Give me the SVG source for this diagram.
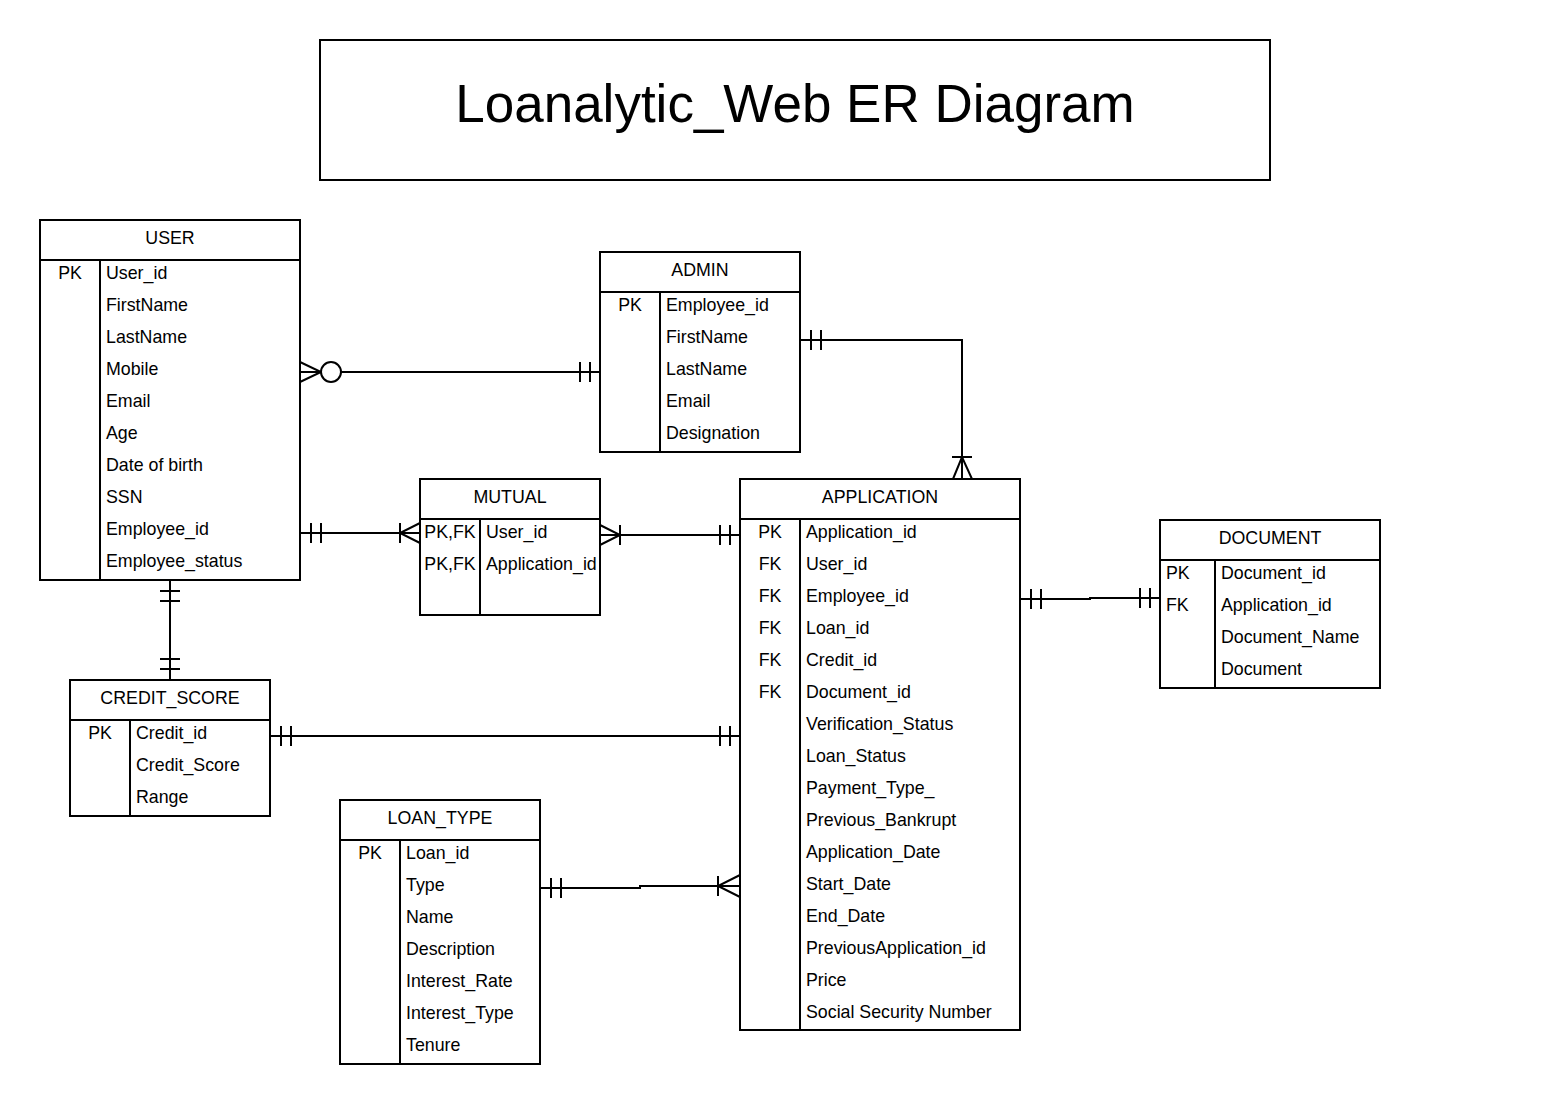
<svg xmlns="http://www.w3.org/2000/svg" width="1550" height="1104" viewBox="0 0 1550 1104">
<style>
.box{fill:#fff;stroke:#000;stroke-width:2}
.ln{fill:none;stroke:#000;stroke-width:2}
text{font-family:"Liberation Sans",Arial,sans-serif;font-size:17.8px;fill:#000}
.h{text-anchor:middle}
.k{text-anchor:middle}
.title{font-size:53px;text-anchor:middle}
</style>
<rect width="1550" height="1104" fill="#fff"/>
<g id="title">
<rect class="box" x="320" y="40" width="950" height="140"/>
<text class="title" x="795" y="122">Loanalytic_Web ER Diagram</text>
</g>
<g id="user">
<rect class="box" x="40" y="220" width="260" height="360"/>
<line class="ln" x1="40" y1="260" x2="300" y2="260"/>
<line class="ln" x1="100" y1="260" x2="100" y2="580"/>
<text class="h" x="170" y="243.5">USER</text>
<text class="k" x="70" y="279">PK</text>
<text x="106" y="279">User_id</text>
<text x="106" y="311">FirstName</text>
<text x="106" y="343">LastName</text>
<text x="106" y="375">Mobile</text>
<text x="106" y="407">Email</text>
<text x="106" y="439">Age</text>
<text x="106" y="471">Date of birth</text>
<text x="106" y="503">SSN</text>
<text x="106" y="535">Employee_id</text>
<text x="106" y="567">Employee_status</text>
</g>
<g id="admin">
<rect class="box" x="600" y="252" width="200" height="200"/>
<line class="ln" x1="600" y1="292" x2="800" y2="292"/>
<line class="ln" x1="660" y1="292" x2="660" y2="452"/>
<text class="h" x="700" y="275.5">ADMIN</text>
<text class="k" x="630" y="311">PK</text>
<text x="666" y="311">Employee_id</text>
<text x="666" y="343">FirstName</text>
<text x="666" y="375">LastName</text>
<text x="666" y="407">Email</text>
<text x="666" y="439">Designation</text>
</g>
<g id="mutual">
<rect class="box" x="420" y="479" width="180" height="136"/>
<line class="ln" x1="420" y1="519" x2="600" y2="519"/>
<line class="ln" x1="480" y1="519" x2="480" y2="615"/>
<text class="h" x="510" y="502.5">MUTUAL</text>
<text class="k" x="450" y="538">PK,FK</text>
<text x="486" y="538">User_id</text>
<text class="k" x="450" y="570">PK,FK</text>
<text x="486" y="570">Application_id</text>
</g>
<g id="application">
<rect class="box" x="740" y="479" width="280" height="551"/>
<line class="ln" x1="740" y1="519" x2="1020" y2="519"/>
<line class="ln" x1="800" y1="519" x2="800" y2="1030"/>
<text class="h" x="880" y="502.5">APPLICATION</text>
<text class="k" x="770" y="538">PK</text>
<text class="k" x="770" y="570">FK</text>
<text class="k" x="770" y="602">FK</text>
<text class="k" x="770" y="634">FK</text>
<text class="k" x="770" y="666">FK</text>
<text class="k" x="770" y="698">FK</text>
<text x="806" y="538">Application_id</text>
<text x="806" y="570">User_id</text>
<text x="806" y="602">Employee_id</text>
<text x="806" y="634">Loan_id</text>
<text x="806" y="666">Credit_id</text>
<text x="806" y="698">Document_id</text>
<text x="806" y="730">Verification_Status</text>
<text x="806" y="762">Loan_Status</text>
<text x="806" y="794">Payment_Type_</text>
<text x="806" y="826">Previous_Bankrupt</text>
<text x="806" y="858">Application_Date</text>
<text x="806" y="890">Start_Date</text>
<text x="806" y="922">End_Date</text>
<text x="806" y="954">PreviousApplication_id</text>
<text x="806" y="986">Price</text>
<text x="806" y="1018">Social Security Number</text>
</g>
<g id="document">
<rect class="box" x="1160" y="520" width="220" height="168"/>
<line class="ln" x1="1160" y1="560" x2="1380" y2="560"/>
<line class="ln" x1="1215" y1="560" x2="1215" y2="688"/>
<text class="h" x="1270" y="543.5">DOCUMENT</text>
<text x="1166" y="579">PK</text>
<text x="1166" y="611">FK</text>
<text x="1221" y="579">Document_id</text>
<text x="1221" y="611">Application_id</text>
<text x="1221" y="643">Document_Name</text>
<text x="1221" y="675">Document</text>
</g>
<g id="credit_score">
<rect class="box" x="70" y="680" width="200" height="136"/>
<line class="ln" x1="70" y1="720" x2="270" y2="720"/>
<line class="ln" x1="130" y1="720" x2="130" y2="816"/>
<text class="h" x="170" y="703.5">CREDIT_SCORE</text>
<text class="k" x="100" y="739">PK</text>
<text x="136" y="739">Credit_id</text>
<text x="136" y="771">Credit_Score</text>
<text x="136" y="803">Range</text>
</g>
<g id="loan_type">
<rect class="box" x="340" y="800" width="200" height="264"/>
<line class="ln" x1="340" y1="840" x2="540" y2="840"/>
<line class="ln" x1="400" y1="840" x2="400" y2="1064"/>
<text class="h" x="440" y="823.5">LOAN_TYPE</text>
<text class="k" x="370" y="859">PK</text>
<text x="406" y="859">Loan_id</text>
<text x="406" y="891">Type</text>
<text x="406" y="923">Name</text>
<text x="406" y="955">Description</text>
<text x="406" y="987">Interest_Rate</text>
<text x="406" y="1019">Interest_Type</text>
<text x="406" y="1051">Tenure</text>
</g>
<g id="connectors" class="ln">
<!-- USER - ADMIN -->
<path class="ln" d="M300 372 H600"/>
<path class="ln" d="M300 362 L321 372 L300 382"/>
<circle cx="331" cy="372" r="10" fill="#fff" stroke="#000" stroke-width="2"/>
<path class="ln" d="M580 362 V382 M590 362 V382"/>
<!-- ADMIN - APPLICATION -->
<path class="ln" d="M800 340 H962 V479"/>
<path class="ln" d="M811 330 V350 M821 330 V350"/>
<path class="ln" d="M952 457 H972 M953 479 L962 457 L972 479"/>
<!-- USER - MUTUAL -->
<path class="ln" d="M300 533 H420"/>
<path class="ln" d="M311 523 V543 M321 523 V543"/>
<path class="ln" d="M400 523 V543 M420 523 L400 533 L420 543"/>
<!-- MUTUAL - APPLICATION -->
<path class="ln" d="M600 535 H740"/>
<path class="ln" d="M600 525 L620 535 L600 545 M620 525 V545"/>
<path class="ln" d="M720 525 V545 M730 525 V545"/>
<!-- APPLICATION - DOCUMENT -->
<path class="ln" d="M1020 599 H1090 V598 H1160"/>
<path class="ln" d="M1031 589 V609 M1041 589 V609"/>
<path class="ln" d="M1140 588 V608 M1150 588 V608"/>
<!-- USER - CREDIT_SCORE -->
<path class="ln" d="M170 580 V680"/>
<path class="ln" d="M160 591 H180 M160 601 H180"/>
<path class="ln" d="M160 659 H180 M160 669 H180"/>
<!-- CREDIT_SCORE - APPLICATION -->
<path class="ln" d="M270 736 H740"/>
<path class="ln" d="M281 726 V746 M291 726 V746"/>
<path class="ln" d="M720 726 V746 M730 726 V746"/>
<!-- LOAN_TYPE - APPLICATION -->
<path class="ln" d="M540 888 H640 V886 H740"/>
<path class="ln" d="M551 878 V898 M561 878 V898"/>
<path class="ln" d="M718 876 V896 M740 875 L718 886 L740 897"/>
</g>
</svg>
